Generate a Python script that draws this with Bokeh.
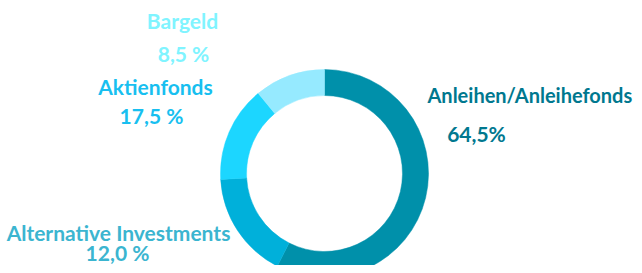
from bokeh.plotting import figure
from bokeh.models import Range1d, ColumnDataSource
from bokeh.core.properties import value
from bokeh.embed import file_html
from bokeh.resources import INLINE
import math

# Data
categories = ["Anleihen/Anleihefonds", "Alternative Investments", "Aktienfonds", "Bargeld"]
label_values = ["64,5%", "12,0 %", "17,5 %", "8,5 %"]
drawn_shares = [57.5, 16.6, 14.9, 11.0]  # arc shares as drawn in the picture
ring_colors = ["#0090aa", "#00b0da", "#1cd6ff", "#96eaff"]
text_colors = ["#00788f", "#3bb5d0", "#18bff0", "#80f4ff"]

# Layout (plot px -> data: x = px - CX, y = CY - py)
W, H = 634, 265
CX, CY = 324, 173
p = figure(width=W, height=H, output_backend="svg", toolbar_location=None,
           x_range=Range1d(-CX, W - CX), y_range=Range1d(CY - H, CY),
           min_border=0)
p.axis.visible = False
p.grid.visible = False
p.outline_line_color = None
p.background_fill_color = "white"
p.border_fill_color = "white"

total = sum(drawn_shares)
starts, ends = [], []
cum = 0.0
for s in drawn_shares:
    starts.append(math.pi / 2 - 2 * math.pi * cum / total)
    cum += s
    ends.append(math.pi / 2 - 2 * math.pi * cum / total)

src = ColumnDataSource(dict(x=[0] * 4, y=[0] * 4, start=starts, end=ends, color=ring_colors))
p.annular_wedge(x="x", y="y", inner_radius=78, outer_radius=104,
                inner_radius_units="screen", outer_radius_units="screen",
                start_angle="start", end_angle="end", direction="clock",
                fill_color="color", line_color="color", line_width=0.5, source=src)

# label positions (px) : name (x, baseline y), value (x, baseline y), align
name_pos = [(427, 94), (118, 232), (155, 86), (182, 20)]
val_pos = [(476, 133), (117, 252), (151, 115), (183, 53)]
name_align = ["left", "center", "center", "center"]
name_size = ["20px", "21px", "21px", "21px"]

for i in range(4):
    nx, ny = name_pos[i]
    vx, vy = val_pos[i]
    p.text(x=[nx - CX], y=[CY - ny], text=[categories[i]], text_font=value("Lato"),
           text_font_style="bold", text_font_size=name_size[i], text_color=text_colors[i],
           text_align=name_align[i], text_baseline="alphabetic")
    p.text(x=[vx - CX], y=[CY - vy], text=[label_values[i]], text_font=value("Lato"),
           text_font_style="bold", text_font_size="21px", text_color=text_colors[i],
           text_align="center", text_baseline="alphabetic")

open("out.html", "w").write(file_html(p, INLINE))
